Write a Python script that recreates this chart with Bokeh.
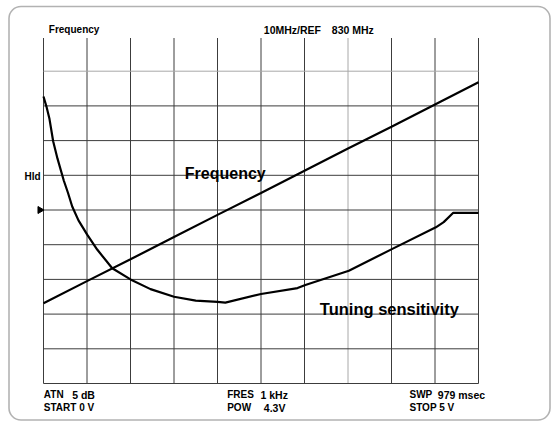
import math
from bokeh.plotting import figure
from bokeh.models import Range1d, BoxAnnotation
from bokeh.core.properties import value
from bokeh.embed import file_html
from bokeh.resources import INLINE

# ---------------- data ----------------
# tuning voltage sweep 0 .. 5 V, 10 divisions
grid_volts = [0.0, 0.5, 1.0, 1.5, 2.0, 2.5, 3.0, 3.5, 4.0, 4.5, 5.0]
grid_divs = [0, 1, 2, 3, 4, 5, 6, 7, 8, 9]

ref_mhz = 830.0          # REF level (top line)
mhz_per_div = 10.0       # 10 MHz / div
ref_marker_div = 5       # marker on the left edge

freq_volts = [0.0, 0.5, 1.0, 1.5, 2.0, 2.5, 3.0, 3.5, 4.0, 4.5, 5.0]
freq_mhz = [753.1, 759.5, 765.8, 772.2, 778.6, 784.9, 791.3, 797.7, 804.0, 810.4, 816.8]

sens_volts = [0.0, 0.034, 0.069, 0.111, 0.161, 0.233, 0.282, 0.330, 0.402,
              0.502, 0.617, 0.790, 1.0, 1.23, 1.50, 1.75, 2.0, 2.09,
              2.5, 2.92, 3.01, 3.51, 4.01, 4.51, 4.60, 4.71, 5.0]
sens_div = [8.27, 7.98, 7.62, 6.98, 6.48, 5.85, 5.49, 5.10, 4.70,
            4.29, 3.86, 3.32, 3.00, 2.72, 2.50, 2.39, 2.35, 2.33,
            2.58, 2.75, 2.84, 3.25, 3.88, 4.50, 4.65, 4.92, 4.92]

freq_div = [(f - (ref_mhz - 10 * mhz_per_div)) / mhz_per_div for f in freq_mhz]

# ---------------- layout (page pixels) ----------------
W, H = 556, 422
GL, GR, GT, GB = 43.0, 478.0, 36.0, 383.0   # grid box on the page
SX = 5.0 / (GR - GL)
SY = 10.0 / (GB - GT)


def X(px):
    return (px - GL) * SX


def Y(py):
    return (GB - py) * SY


p = figure(width=W, height=H, output_backend="svg", toolbar_location=None,
           x_range=Range1d(X(0), X(W)), y_range=Range1d(Y(H), Y(0)),
           x_axis_location=None, y_axis_location=None, min_border=0)
p.grid.visible = False
p.outline_line_color = None
p.background_fill_color = "white"
p.border_fill_color = "white"

# rounded outer frame
frame = BoxAnnotation(left=X(8.5), right=X(549.5), top=Y(6.0), bottom=Y(419.5),
                      fill_color=None, line_color="black", line_width=1.6,
                      border_radius=12)
p.add_layout(frame)

# graticule
GRID = "#3c3c3c"
LIGHT = "#a8a8a8"
vcol = [LIGHT if v == 3.5 else GRID for v in grid_volts]
p.segment(x0=grid_volts, y0=[0] * len(grid_volts), x1=grid_volts,
          y1=[Y(37.5)] * len(grid_volts), line_color=vcol, line_width=1)
hcol = [LIGHT if d == 9 else GRID for d in grid_divs]
p.segment(x0=[0] * len(grid_divs), y0=grid_divs, x1=[5] * len(grid_divs),
          y1=grid_divs, line_color=hcol, line_width=1)

# traces
p.line(freq_volts, freq_div, line_color="black", line_width=2.2)
p.line(sens_volts, sens_div, line_color="black", line_width=2.2,
       line_join="round")

# reference marker
p.scatter(x=[X(39.5)], y=[ref_marker_div], marker="triangle", size=7,
          angle=-math.pi / 2, fill_color="black", line_color="black")

FONT = value("Liberation Sans")

small = [
    ("Frequency", 48.3, 29.3, "10px"),
    ("10MHz/REF", 263.3, 29.3, "10.5px"),
    ("830 MHz", 331.3, 29.3, "10.5px"),
    ("Hld", 24.0, 175.7, "10px"),
    ("ATN", 43.3, 394.3, "10px"),
    ("5 dB", 71.7, 394.3, "10.5px"),
    ("START 0 V", 43.3, 407.0, "10px"),
    ("FRES", 226.7, 394.3, "10px"),
    ("1 kHz", 260.0, 394.3, "10.5px"),
    ("POW", 226.7, 407.0, "10px"),
    ("4.3V", 263.3, 407.0, "10.5px"),
    ("SWP", 409.0, 394.3, "10px"),
    ("979 msec", 437.3, 394.3, "10.5px"),
    ("STOP 5 V", 409.0, 407.0, "10px"),
]
p.text(x=[X(a) for _, a, _, _ in small], y=[Y(b) for _, _, b, _ in small],
       text=[t for t, _, _, _ in small], text_font=FONT,
       text_font_size=[s for _, _, _, s in small],
       text_font_style="bold", text_align="left", text_baseline="alphabetic",
       text_color="black")

big = [
    ("Frequency", 184.3, 173.3, "16px"),
    ("Tuning sensitivity", 319.3, 308.5, "16.5px"),
]
p.text(x=[X(a) for _, a, _, _ in big], y=[Y(b) for _, _, b, _ in big],
       text=[t for t, _, _, _ in big], text_font=FONT,
       text_font_size=[s for _, _, _, s in big],
       text_font_style="bold", text_align="left", text_baseline="alphabetic",
       text_color="black")

open("out.html", "w").write(file_html(p, INLINE))
